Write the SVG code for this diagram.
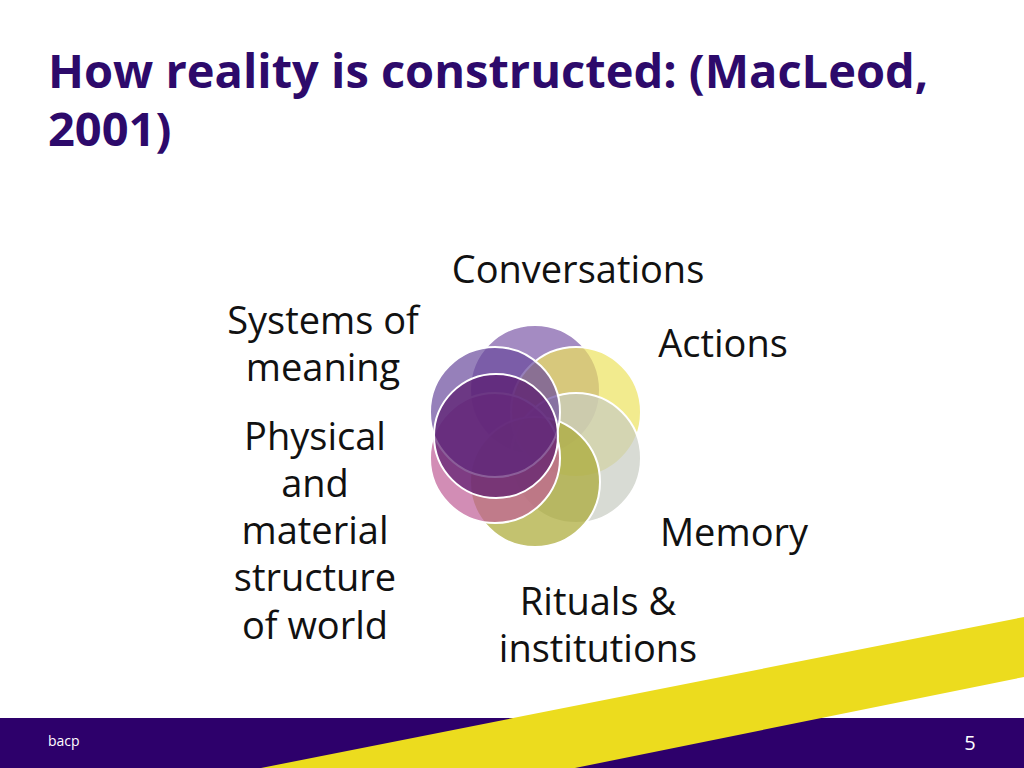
<svg xmlns="http://www.w3.org/2000/svg" width="1024" height="768" viewBox="0 0 1024 768">
<style>
.t{font-family:"Open Sans","Noto Sans",sans-serif;font-size:38px;fill:#111;text-anchor:middle}
.c{stroke:#fff;stroke-width:2;fill-opacity:0.7}
</style>
<rect width="1024" height="768" fill="#fff"/>
<text x="48" y="88" font-family="Open Sans,Noto Sans,sans-serif" font-weight="bold" font-size="47" fill="#2d0a6b" letter-spacing="0">How reality is constructed: (MacLeod,</text>
<text x="48" y="146" font-family="Open Sans,Noto Sans,sans-serif" font-weight="bold" font-size="47" fill="#2d0a6b" letter-spacing="0">2001)</text>
<g id="circles">
<circle id="conversations" class="c" cx="535" cy="390" r="65" fill="#7e5aa8"/>
<circle id="actions" class="c" cx="576" cy="412" r="65" fill="#ece25e"/>
<circle id="memory" class="c" cx="576" cy="458" r="65" fill="#c8ccc2"/>
<circle id="rituals" class="c" cx="535" cy="482" r="65" fill="#aaa832"/>
<circle id="physical" class="c" cx="495" cy="458" r="65" fill="#bf5c96"/>
<circle id="systems" class="c" cx="495" cy="412" r="65" fill="#6a4a9c"/>
<circle class="c" cx="496" cy="436" r="62" fill="#5a1a6e" fill-opacity="0.45"/>
</g>
<text class="t" x="578" y="283">Conversations</text>
<text class="t" x="723" y="357">Actions</text>
<text class="t" x="323" y="334">Systems of</text>
<text class="t" x="323" y="381">meaning</text>
<text class="t" x="315" y="450">Physical</text>
<text class="t" x="315" y="497">and</text>
<text class="t" x="315" y="544">material</text>
<text class="t" x="315" y="591">structure</text>
<text class="t" x="315" y="639">of world</text>
<text class="t" x="734" y="546">Memory</text>
<text class="t" x="598" y="615">Rituals &amp;</text>
<text class="t" x="598" y="662">institutions</text>
<rect x="0" y="718" width="1024" height="50" fill="#2d006b"/>
<polygon points="261,768 1024,617 1024,677 575,768" fill="#ecdc1e"/>
<text x="48" y="746" font-family="Open Sans,Noto Sans,sans-serif" font-size="14" fill="#fff">bacp</text>
<text x="970" y="750" font-family="Open Sans,Noto Sans,sans-serif" font-size="20" fill="#fff" text-anchor="middle">5</text>
</svg>
